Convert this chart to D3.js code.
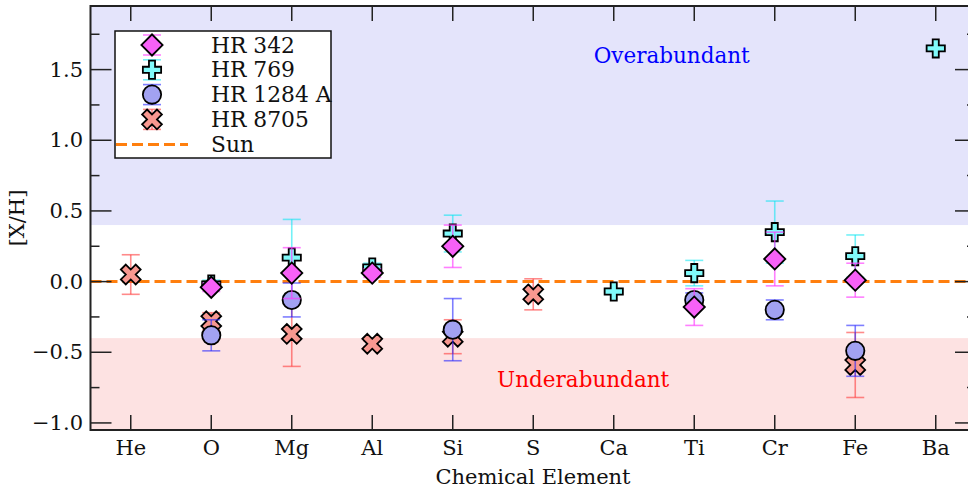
<!DOCTYPE html>
<html>
<head>
<meta charset="utf-8">
<script src="https://cdn.jsdelivr.net/npm/d3@7"></script>
<style>
  body { margin: 0; background: #ffffff; }
  text { font-family: "DejaVu Serif", serif; }
</style>
</head>
<body>
<svg id="chart" width="968" height="492"></svg>
<script>
// elements on the x axis
var elements = ["He", "O", "Mg", "Al", "Si", "S", "Ca", "Ti", "Cr", "Fe", "Ba"];

// [X/H] values, null = not measured
var hr342 = [null, -0.04, 0.06, 0.06, 0.25, null, null, -0.18, 0.16, 0.01, null];
var hr342_err = [null, 0.03, 0.18, 0.03, 0.15, null, null, 0.13, 0.19, 0.12, null];

var hr769 = [null, -0.02, 0.17, 0.1, 0.34, null, -0.07, 0.06, 0.35, 0.18, 1.65];
var hr769_err = [null, 0.03, 0.27, 0.03, 0.13, null, 0.02, 0.09, 0.22, 0.15, 0.02];

var hr1284a = [null, -0.38, -0.13, null, -0.34, null, null, -0.13, -0.2, -0.49, null];
var hr1284a_err = [null, 0.11, 0.12, null, 0.22, null, null, 0.05, 0.07, 0.18, null];

var hr8705 = [0.05, -0.28, -0.37, -0.44, -0.39, -0.09, null, null, null, -0.59, null];
var hr8705_err = [0.14, 0.06, 0.23, 0.02, 0.12, 0.11, null, null, null, 0.23, null];

var yTicks = [-1.0, -0.5, 0.0, 0.5, 1.0, 1.5];
var yMinorTicks = [-0.75, -0.25, 0.25, 0.75, 1.25, 1.75];

var svg = d3.select("#chart");
// window.top is read-only, so plot edges get their own names
var pLeft = 90.5, pRight = 976, pTop = 6, pBottom = 430;
var fs = 21;

var x = d3.scaleLinear().domain([-0.5, 10.5]).range([pLeft, pRight]);
var y = d3.scaleLinear().domain([-1.05, 1.95]).range([pBottom, pTop]);

// shaded bands
svg.append("rect")
  .attr("x", pLeft).attr("y", pTop)
  .attr("width", pRight - pLeft).attr("height", y(0.4) - pTop)
  .attr("fill", "#e4e4fb");
svg.append("rect")
  .attr("x", pLeft).attr("y", y(-0.4))
  .attr("width", pRight - pLeft).attr("height", pBottom - y(-0.4))
  .attr("fill", "#fde2e2");

svg.append("text")
  .attr("x", x(6.72)).attr("y", y(1.6))
  .attr("text-anchor", "middle").attr("dominant-baseline", "central")
  .attr("font-size", fs + 0.5).attr("fill", "#0000ff")
  .text("Overabundant");
svg.append("text")
  .attr("x", x(5.62)).attr("y", y(-0.69))
  .attr("text-anchor", "middle").attr("dominant-baseline", "central")
  .attr("font-size", fs + 0.5).attr("fill", "#ff0000")
  .text("Underabundant");

// sun line
svg.append("line")
  .attr("x1", pLeft).attr("x2", pRight)
  .attr("y1", y(0)).attr("y2", y(0))
  .attr("stroke", "#ff7f0e").attr("stroke-width", 3)
  .attr("stroke-dasharray", "11,5");

// marker shapes
var diamondPath = d3.symbol().type(d3.symbolSquare).size(225)();
var plusPath = d3.symbol().type(d3.symbolCross).size(185)();
var xPath = d3.symbol().type(d3.symbolCross).size(245)();
var circlePath = d3.symbol().type(d3.symbolCircle).size(Math.PI * 84)();

var stars = [
  { name: "HR 8705", vals: hr8705, errs: hr8705_err, path: xPath, rot: 45, fill: "#f89890", bar: "rgba(255,60,60,0.6)" },
  { name: "HR 769", vals: hr769, errs: hr769_err, path: plusPath, rot: 0, fill: "#80fafa", bar: "rgba(0,230,240,0.55)" },
  { name: "HR 1284 A", vals: hr1284a, errs: hr1284a_err, path: circlePath, rot: 0, fill: "#a2a2f2", bar: "rgba(40,40,255,0.6)" },
  { name: "HR 342", vals: hr342, errs: hr342_err, path: diamondPath, rot: 45, fill: "#f761f7", bar: "rgba(255,60,255,0.65)" }
];

function draw_errorbar(g, cx, y1, y2, color) {
  g.append("line").attr("x1", cx).attr("x2", cx).attr("y1", y1).attr("y2", y2)
    .attr("stroke", color).attr("stroke-width", 1.6);
  [y1, y2].forEach(function (yy) {
    g.append("line").attr("x1", cx - 9).attr("x2", cx + 9).attr("y1", yy).attr("y2", yy)
      .attr("stroke", color).attr("stroke-width", 1.6);
  });
}

function draw_marker(g, cx, cy, s) {
  g.append("path")
    .attr("d", s.path)
    .attr("transform", "translate(" + cx + "," + cy + ") rotate(" + s.rot + ")")
    .attr("fill", s.fill)
    .attr("stroke", "#000").attr("stroke-width", 1.8)
    .attr("stroke-linejoin", "miter");
}

var marks = svg.append("g");
stars.forEach(function (s) {
  var g = marks.append("g");
  s.vals.forEach(function (v, i) {
    if (v == null) return;
    draw_errorbar(g, x(i), y(v + s.errs[i]), y(v - s.errs[i]), s.bar);
  });
  s.vals.forEach(function (v, i) {
    if (v == null) return;
    draw_marker(g, x(i), y(v), s);
  });
});

// frame + ticks
var axisColor = "#222";
elements.forEach(function (el, i) {
  svg.append("line").attr("x1", x(i)).attr("x2", x(i)).attr("y1", pBottom).attr("y2", pBottom - 15)
    .attr("stroke", axisColor).attr("stroke-width", 1.5);
  svg.append("line").attr("x1", x(i)).attr("x2", x(i)).attr("y1", pTop).attr("y2", pTop + 15)
    .attr("stroke", axisColor).attr("stroke-width", 1.5);
  svg.append("text")
    .attr("x", x(i)).attr("y", 455)
    .attr("text-anchor", "middle").attr("font-size", fs).attr("fill", "#111")
    .text(el);
});
yTicks.forEach(function (t) {
  [[pLeft, pLeft + 21], [pRight, pRight - 21]].forEach(function (p) {
    svg.append("line").attr("x1", p[0]).attr("x2", p[1]).attr("y1", y(t)).attr("y2", y(t))
      .attr("stroke", axisColor).attr("stroke-width", 1.5);
  });
  svg.append("text")
    .attr("x", 83).attr("y", y(t))
    .attr("text-anchor", "end").attr("dominant-baseline", "central")
    .attr("font-size", fs).attr("fill", "#111")
    .text(d3.format(".1f")(t).replace("-", "\u2212"));
});
yMinorTicks.forEach(function (t) {
  [[pLeft, pLeft + 9], [pRight, pRight - 9]].forEach(function (p) {
    svg.append("line").attr("x1", p[0]).attr("x2", p[1]).attr("y1", y(t)).attr("y2", y(t))
      .attr("stroke", axisColor).attr("stroke-width", 1.5);
  });
});
svg.append("rect")
  .attr("x", pLeft).attr("y", pTop)
  .attr("width", pRight - pLeft).attr("height", pBottom - pTop)
  .attr("fill", "none").attr("stroke", axisColor).attr("stroke-width", 2);

svg.append("text")
  .attr("x", 533).attr("y", 484)
  .attr("text-anchor", "middle").attr("font-size", fs).attr("fill", "#111")
  .text("Chemical Element");
svg.append("text")
  .attr("transform", "translate(17," + (pTop + pBottom) / 2 + ") rotate(-90)")
  .attr("text-anchor", "middle").attr("dominant-baseline", "central")
  .attr("font-size", fs).attr("fill", "#111")
  .text("[X/H]");

// legend
var legend = svg.append("g");
legend.append("rect")
  .attr("x", 115).attr("y", 31).attr("width", 216).attr("height", 127)
  .attr("fill", "#fff").attr("stroke", "#111").attr("stroke-width", 1.5);
var legendOrder = [stars[3], stars[1], stars[2], stars[0]];
legendOrder.forEach(function (s, k) {
  var ly = 45 + k * 24.8;
  draw_errorbar(legend, 152, ly - 10, ly + 10, s.bar);
  draw_marker(legend, 152, ly, s);
  legend.append("text")
    .attr("x", 211).attr("y", ly)
    .attr("dominant-baseline", "central")
    .attr("font-size", fs + 0.8).attr("fill", "#111")
    .text(s.name);
});
legend.append("line")
  .attr("x1", 116).attr("x2", 188).attr("y1", 144.5).attr("y2", 144.5)
  .attr("stroke", "#ff7f0e").attr("stroke-width", 3)
  .attr("stroke-dasharray", "11,5");
legend.append("text")
  .attr("x", 211).attr("y", 144.5)
  .attr("dominant-baseline", "central")
  .attr("font-size", fs + 0.8).attr("fill", "#111")
  .text("Sun");
</script>
</body>
</html>
